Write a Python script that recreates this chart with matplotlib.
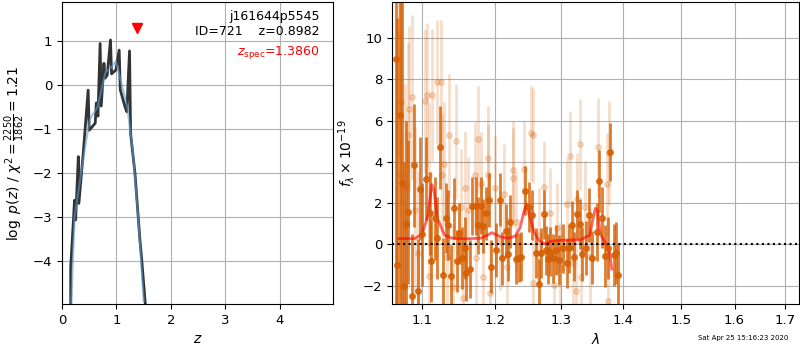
import matplotlib
matplotlib.use("Agg")
import matplotlib.pyplot as plt
from matplotlib.ticker import NullLocator

# p(z) panel
z_fit = [0.16, 0.16, 0.21, 0.23, 0.25, 0.30, 0.31, 0.39, 0.48, 0.50, 0.61, 0.63, 0.66, 0.70,
         0.72, 0.77, 0.79, 0.83, 0.89, 0.91, 0.99, 1.05, 1.07, 1.16, 1.19, 1.24, 1.26, 1.34,
         1.43, 1.46, 1.53]
logp_fit = [-4.97, -4.12, -3.06, -2.61, -3.06, -1.62, -2.68, -1.54, -0.11, -1.02, -0.86, -0.40,
            -0.70, 0.95, -0.47, 0.50, 0.16, 0.23, 1.03, 0.26, 0.35, 0.80, -0.10, -0.50, -0.60,
            0.78, -1.10, -2.00, -3.50, -3.90, -4.97]
z_smooth = [0.17, 0.23, 0.35, 0.45, 0.52, 0.65, 0.80, 0.90, 0.99, 1.10, 1.20, 1.30, 1.40, 1.50]
logp_smooth = [-4.97, -3.00, -2.00, -1.20, -0.75, -0.50, 0.30, 0.40, 0.55, 0.00, -0.50, -1.50,
               -3.00, -4.90]
z_spec = 1.3860

# spectrum panel, dark points
dark_lam = [1.066, 1.068, 1.071, 1.074, 1.077, 1.079, 1.082, 1.087, 1.089, 1.094, 1.097, 1.100,
            1.105, 1.110, 1.112, 1.117, 1.120, 1.124, 1.128, 1.132, 1.135, 1.139, 1.143, 1.147,
            1.150, 1.154, 1.158, 1.160, 1.165, 1.168, 1.173, 1.176, 1.180, 1.184, 1.187, 1.192,
            1.195, 1.202, 1.207, 1.211, 1.216, 1.220, 1.223, 1.231, 1.235, 1.238, 1.244, 1.250,
            1.255, 1.261, 1.266, 1.268, 1.273, 1.276, 1.279, 1.283, 1.287, 1.292, 1.296, 1.303,
            1.308, 1.312, 1.316, 1.320, 1.325, 1.329, 1.333, 1.339, 1.343, 1.348, 1.356, 1.360,
            1.365, 1.370, 1.374, 1.378, 1.384, 1.388, 1.391]
dark_flux = [9.0, -1.0, 6.28, 3.0, -2.0, 1.0, 1.56, -2.50, 3.83, -2.24, 2.70, 0.50,
             3.19, 1.50, -0.80, 1.26, 0.30, 4.70, -1.50, 1.26, 0.92, -1.55, 1.74, -0.82,
             0.53, -0.68, -0.19, -1.37, -1.21, 1.87, 1.85, 0.92, 1.88, 0.90, 1.50, 2.16,
             -1.08, -0.27, 2.17, -0.68, 0.66, -0.48, 1.10, -0.71, -0.64, -0.60, 2.61, 1.82,
             1.42, -0.43, -1.92, -0.43, 1.45, -0.29, -0.72, -0.35, -0.68, -0.27, -0.76, -0.19,
             -0.92, -0.19, 0.92, -0.60, 1.45, 0.98, -0.47, -0.19, 1.42, -0.64, 0.61, 3.06,
             1.30, -0.56, -0.19, 4.48, -0.50, -0.43, -1.50]
dark_err = [12, 12, 10, 9, 6, 5, 3.5, 3, 3, 2.5, 2.5, 2.5,
            2, 2, 2, 2, 2, 2, 1.8, 1.7, 1.7, 1.5, 1.5, 1.5,
            1.5, 1.5, 1.5, 1.4, 1.4, 1.4, 1.4, 1.4, 1.4, 1.3, 1.3, 1.3,
            1.3, 1.3, 1.3, 1.3, 1.3, 1.3, 1.3, 1.2, 1.2, 1.2, 1.2, 1.2,
            1.2, 1.2, 1.2, 1.2, 1.2, 1.2, 1.2, 1.2, 1.2, 1.2, 1.2, 1.2,
            1.2, 1.2, 1.2, 1.2, 1.2, 1.2, 1.3, 1.3, 1.3, 1.3, 1.4, 1.5,
            1.5, 1.5, 1.5, 1.4, 1.5, 1.5, 1.5]

# spectrum panel, faint points
light_lam = [1.070, 1.071, 1.073, 1.078, 1.081, 1.083, 1.087, 1.091, 1.095, 1.104, 1.107, 1.109,
             1.109, 1.113, 1.120, 1.125, 1.126, 1.129, 1.134, 1.136, 1.141, 1.145, 1.153, 1.155,
             1.158, 1.162, 1.172, 1.174, 1.176, 1.180, 1.184, 1.190, 1.191, 1.194, 1.200, 1.208,
             1.213, 1.218, 1.226, 1.227, 1.231, 1.243, 1.253, 1.256, 1.257, 1.266, 1.273, 1.283,
             1.289, 1.293, 1.298, 1.309, 1.314, 1.318, 1.323, 1.325, 1.329, 1.331, 1.337, 1.346,
             1.358, 1.373, 1.375, 1.377]
light_flux = [10.2, 3.43, 6.89, 2.79, 5.28, 6.57, 7.13, 1.69, -0.43, 6.94, 7.26, -1.53,
              3.35, 7.26, 7.89, 7.89, 3.35, 3.91, -0.60, 5.28, -2.05, 4.99, 1.82, -2.61,
              2.71, 1.66, 3.35, -0.68, 5.09, 2.95, -1.56, 4.20, 3.35, -2.37, 2.75, 0.21,
              2.46, -1.08, 3.24, 3.59, 1.10, 3.67, 5.39, 5.28, -1.88, 0.45, 2.79, 1.50,
              -1.96, 0.77, -1.16, 1.98, 4.27, -0.92, -2.24, 2.22, 4.85, -1.56, 1.82, -0.60,
              4.72, 2.91, -2.77, 4.43]
light_err = [6, 6, 5, 5, 4.5, 4, 4, 4, 4, 3.5, 3.5, 3.5,
             3.5, 3.2, 3, 3, 3, 3, 3, 3, 3, 2.8, 2.8, 2.8,
             2.8, 2.6, 2.6, 2.6, 2.6, 2.5, 2.5, 2.5, 2.5, 2.5, 2.5, 2.4,
             2.4, 2.4, 2.4, 2.4, 2.4, 2.3, 2.3, 2.3, 2.3, 2.3, 2.2, 2.2,
             2.2, 2.2, 2.2, 2.2, 2.2, 2.2, 2.2, 2.2, 2.2, 2.2, 2.2, 2.3,
             2.4, 2.5, 2.5, 2.5]

# model line
model_lam = [1.070, 1.090, 1.100, 1.107, 1.113, 1.116, 1.120, 1.130, 1.140, 1.160, 1.180, 1.190,
             1.196, 1.200, 1.210, 1.220, 1.230, 1.237, 1.243, 1.247, 1.252, 1.258, 1.265, 1.275,
             1.285, 1.300, 1.330, 1.345, 1.350, 1.354, 1.358, 1.362, 1.370, 1.377, 1.381]
model_flux = [0.28, 0.28, 0.50, 1.30, 2.90, 2.60, 1.30, 0.45, 0.30, 0.27, 0.30, 0.45,
              0.57, 0.50, 0.35, 0.30, 0.40, 0.80, 1.60, 1.95, 1.30, 0.60, 0.20, 0.02,
              0.15, 0.20, 0.22, 0.45, 1.20, 1.75, 1.60, 0.50, 0.10, -0.30, -1.20]

lam_ticks = [1.1, 1.2, 1.3, 1.4, 1.5, 1.6, 1.7]
g141 = (0.835, 0.369, 0.0)

fig = plt.figure(figsize=(8, 3.5), dpi=100)
ax1 = fig.add_axes([0.0775, 0.131, 0.339, 0.863])
ax2 = fig.add_axes([0.49, 0.131, 0.509, 0.863])

ax1.plot(z_fit, logp_fit, color='0.2', lw=2)
ax1.plot(z_smooth, logp_smooth, color='#5b9bd5', lw=1.5, alpha=0.6)
ax1.plot([z_spec], [1.3], marker='v', color='r', ms=7, linestyle='none')
ax1.set_xlim(0, 4.98)
ax1.set_ylim(-4.97, 1.89)
ax1.set_xticks([0, 1, 2, 3, 4])
ax1.set_yticks([-4, -3, -2, -1, 0, 1])
ax1.grid(True)
ax1.set_xlabel(r'$z$')
ax1.set_ylabel(r'$\log\ p(z)$ / $\chi^2=\frac{2250}{1862}=1.21$')
ax1.text(0.95, 0.975, 'j161644p5545\nID=721    z=0.8982', transform=ax1.transAxes,
         ha='right', va='top', fontsize=9)
ax1.text(0.95, 0.86, r'$z_\mathrm{spec}$=%.4f' % z_spec, transform=ax1.transAxes,
         ha='right', va='top', fontsize=9, color='r')

ax2.errorbar(light_lam, light_flux, light_err, marker='o', ms=4, linestyle='none',
             color=g141, alpha=0.2, elinewidth=2)
ax2.errorbar(dark_lam, dark_flux, dark_err, marker='o', ms=4, linestyle='none',
             color=g141, alpha=0.8, elinewidth=2)
ax2.plot(model_lam, model_flux, color='r', lw=2, alpha=0.6)
ax2.axhline(0, color='k', linestyle=':', lw=1.5)
ax2.set_xscale('log')
ax2.set_xlim(1.061, 1.729)
ax2.set_xticks(lam_ticks)
ax2.set_xticklabels([str(t) for t in lam_ticks])
ax2.xaxis.set_minor_locator(NullLocator())
ax2.set_ylim(-2.9, 11.75)
ax2.set_yticks([-2, 0, 2, 4, 6, 8, 10])
ax2.grid(True)
ax2.set_xlabel(r'$\lambda$')
ax2.set_ylabel(r'$f_\lambda\times10^{-19}$')

for ax in (ax1, ax2):
    ax.tick_params(labelsize=9.5)

fig.text(0.985, 0.025, 'Sat Apr 25 15:16:23 2020', ha='right', va='bottom', fontsize=5)

fig.savefig('out.png', dpi=100)
